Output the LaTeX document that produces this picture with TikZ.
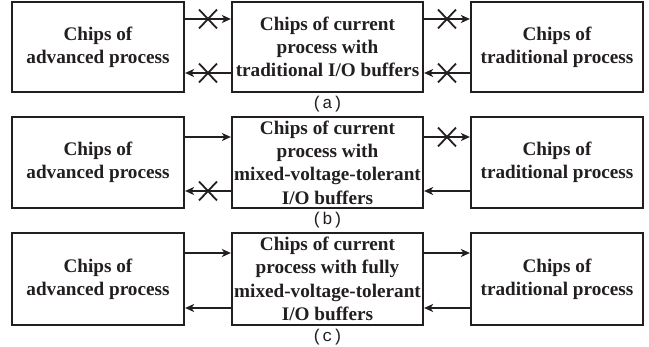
\documentclass[tikz,border=0pt]{standalone}
\usepackage{fontspec}
\setmainfont{Liberation Serif}
\setmonofont{Liberation Mono}
\usetikzlibrary{arrows.meta,shapes.misc}
\definecolor{ink}{RGB}{35,31,32}
\begin{document}
\begin{tikzpicture}[x=1pt,y=-1pt,
  box/.style={draw=ink, line width=2.2pt, inner sep=0pt, align=center,
    font=\bfseries\fontsize{19.2}{23.3}\selectfont, text=ink},
  sidebox/.style={box, minimum width=172pt},
  midbox/.style={box, minimum width=191pt},
  arr/.style={draw=ink, line width=1.7pt, -{Stealth[length=9pt,width=8pt,inset=2.5pt]}},
  xmark/.style={draw=ink, cross out, line width=1.8pt, minimum width=16pt,
    minimum height=17pt, inner sep=0pt},
  captext/.style={font=\ttfamily\fontsize{17}{17}\selectfont, text=ink}]
\useasboundingbox (0,0) rectangle (649,347);
\fill[white] (0,0) rectangle (649,347);

% row (a)
\node[sidebox, minimum height=90pt] (La) at (98,47) {Chips of\\advanced process};
\node[midbox, minimum height=90pt] (Ma) at (327.5,47) {Chips of current\\process with\\traditional I/O buffers};
\node[sidebox, minimum height=90pt] (Ra) at (557,47) {Chips of\\traditional process};
\draw[arr] (La.east |- 0,19) -- node[xmark]{} (Ma.west |- 0,19);
\draw[arr] (Ma.west |- 0,73) -- node[xmark]{} (La.east |- 0,73);
\draw[arr] (Ma.east |- 0,19) -- node[xmark]{} (Ra.west |- 0,19);
\draw[arr] (Ra.west |- 0,73) -- node[xmark]{} (Ma.east |- 0,73);
\node[captext] (ca) at (327.5,104) {(a)};

% row (b)
\node[sidebox, minimum height=91pt] (Lb) at (98,162.5) {Chips of\\advanced process};
\node[midbox, minimum height=91pt] (Mb) at (327.5,162.5) {Chips of current\\process with\\mixed-voltage-tolerant\\I/O buffers};
\node[sidebox, minimum height=91pt] (Rb) at (557,162.5) {Chips of\\traditional process};
\draw[arr] (Lb.east |- 0,137) -- (Mb.west |- 0,137);
\draw[arr] (Mb.west |- 0,191) -- node[xmark]{} (Lb.east |- 0,191);
\draw[arr] (Mb.east |- 0,137) -- node[xmark]{} (Rb.west |- 0,137);
\draw[arr] (Rb.west |- 0,191) -- (Mb.east |- 0,191);
\node[captext] (cb) at (327.5,220) {(b)};

% row (c)
\node[sidebox, minimum height=92pt] (Lc) at (98,279) {Chips of\\advanced process};
\node[midbox, minimum height=92pt] (Mc) at (327.5,279) {Chips of current\\process with fully\\mixed-voltage-tolerant\\I/O buffers};
\node[sidebox, minimum height=92pt] (Rc) at (557,279) {Chips of\\traditional process};
\draw[arr] (Lc.east |- 0,253) -- (Mc.west |- 0,253);
\draw[arr] (Mc.west |- 0,308) -- (Lc.east |- 0,308);
\draw[arr] (Mc.east |- 0,253) -- (Rc.west |- 0,253);
\draw[arr] (Rc.west |- 0,308) -- (Mc.east |- 0,308);
\node[captext] (cc) at (327.5,337) {(c)};
\end{tikzpicture}
\end{document}
